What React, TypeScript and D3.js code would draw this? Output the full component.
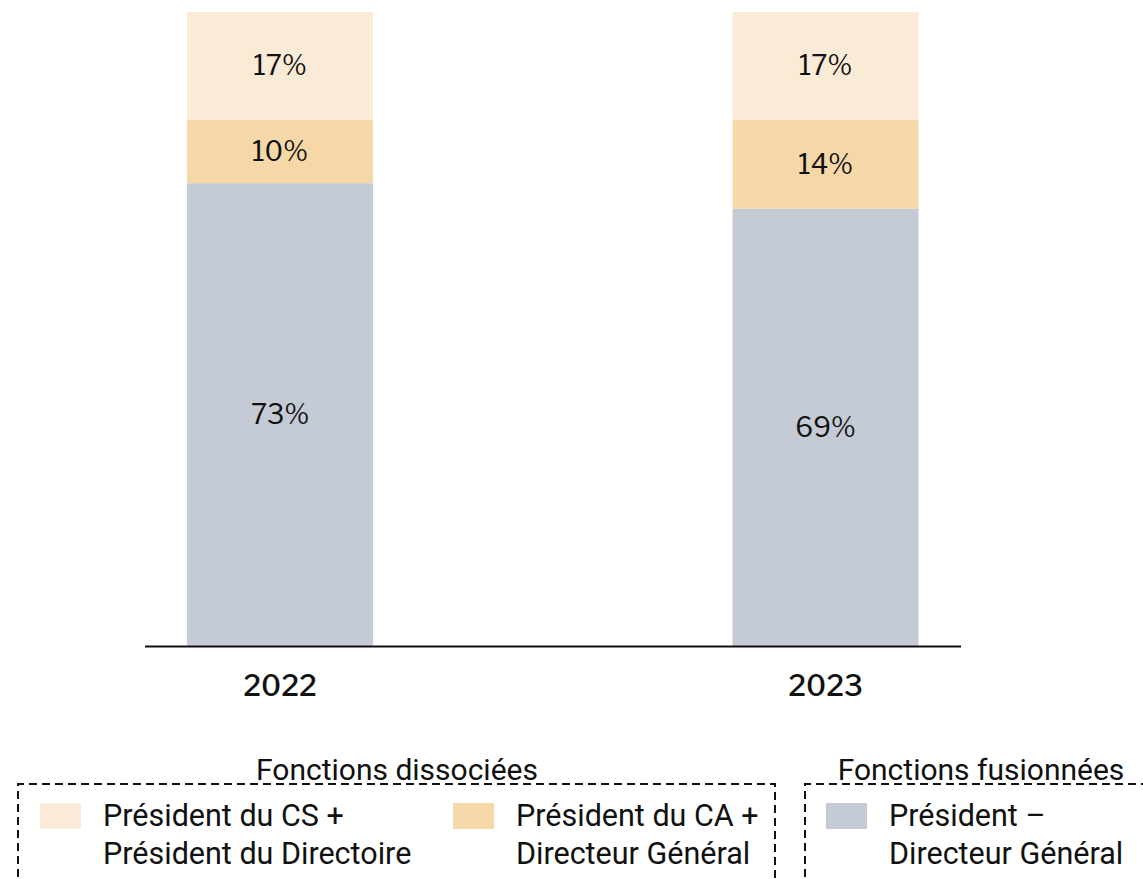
import React from "react";
import * as d3 from "d3";

const years = ["2022", "2023"];
const seriesKeys = ["fusion", "ca", "cs"];
const fusionValues = [73, 69];
const caValues = [10, 14];
const csValues = [17, 17];
const seriesColors = ["#c4cbd4", "#f5d7a8", "#faebd7"];
const legendItems = [
  { key: "cs", lines: ["Président du CS +", "Président du Directoire"] },
  { key: "ca", lines: ["Président du CA +", "Directeur Général"] },
  { key: "fusion", lines: ["Président –", "Directeur Général"] },
];
const groupTitles = ["Fonctions dissociées", "Fonctions fusionnées"];

const W = 1143;
const H = 879;
const FONT = "'Libre Franklin', 'Liberation Sans', Arial, sans-serif";
const NARROW = "Roboto, sans-serif";

export default function App() {
  const rows = years.map((y, i) => ({
    year: y,
    fusion: fusionValues[i],
    ca: caValues[i],
    cs: csValues[i],
  }));
  const stack = d3.stack<any>().keys(seriesKeys)(rows);
  const xPos = d3.scalePoint().domain(years).range([280, 825.5]);
  const barW = 186;
  const y = d3.scaleLinear().domain([0, 100]).range([646, 12]);
  const color = d3.scaleOrdinal<string, string>().domain(seriesKeys).range(seriesColors);

  return (
    <svg width={W} height={H} style={{ position: "absolute", left: 0, top: 0 }}>
      <rect width={W} height={H} fill="#fff" />
      {stack.map((s) => (
        <g key={s.key}>
          {s.map((d, i) => {
            const cx = xPos(years[i])!;
            const y0 = y(d[0]);
            const y1 = y(d[1]);
            return (
              <g key={i}>
                <rect x={cx - barW / 2} y={y1} width={barW} height={y0 - y1} fill={color(s.key)} />
                <text
                  x={cx}
                  y={(y0 + y1) / 2}
                  dy="0.35em"
                  textAnchor="middle"
                  fontFamily={FONT}
                  fontSize={27}
                  fill="#111"
                >
                  {d[1] - d[0]}%
                </text>
              </g>
            );
          })}
        </g>
      ))}
      <line x1={145} x2={961} y1={646.5} y2={646.5} stroke="#111" strokeWidth={2} />
      {years.map((yr) => (
        <text key={yr} x={xPos(yr)} y={696} textAnchor="middle" fontFamily={FONT} fontSize={29} fill="#111" fontWeight={500}>
          {yr}
        </text>
      ))}
      <path d="M18,890 V784 H775 V890" fill="none" stroke="#111" strokeWidth={2} strokeDasharray="8,5" />
      <path d="M805,890 V784 H1150" fill="none" stroke="#111" strokeWidth={2} strokeDasharray="8,5" />
      <text x={397} y={780} textAnchor="middle" fontFamily={NARROW} fontSize={30} fill="#111">{groupTitles[0]}</text>
      <text x={981} y={780} textAnchor="middle" fontFamily={NARROW} fontSize={30} fill="#111">{groupTitles[1]}</text>
      {legendItems.map((it, i) => {
        const lx = [40, 453, 826][i];
        return (
          <g key={it.key}>
            <rect x={lx} y={803} width={41} height={26} fill={color(it.key)} />
            {it.lines.map((ln, j) => (
              <text key={j} x={lx + 63} y={826 + j * 38} fontFamily={NARROW} fontSize={30.5} fill="#111">
                {ln}
              </text>
            ))}
          </g>
        );
      })}
    </svg>
  );
}
